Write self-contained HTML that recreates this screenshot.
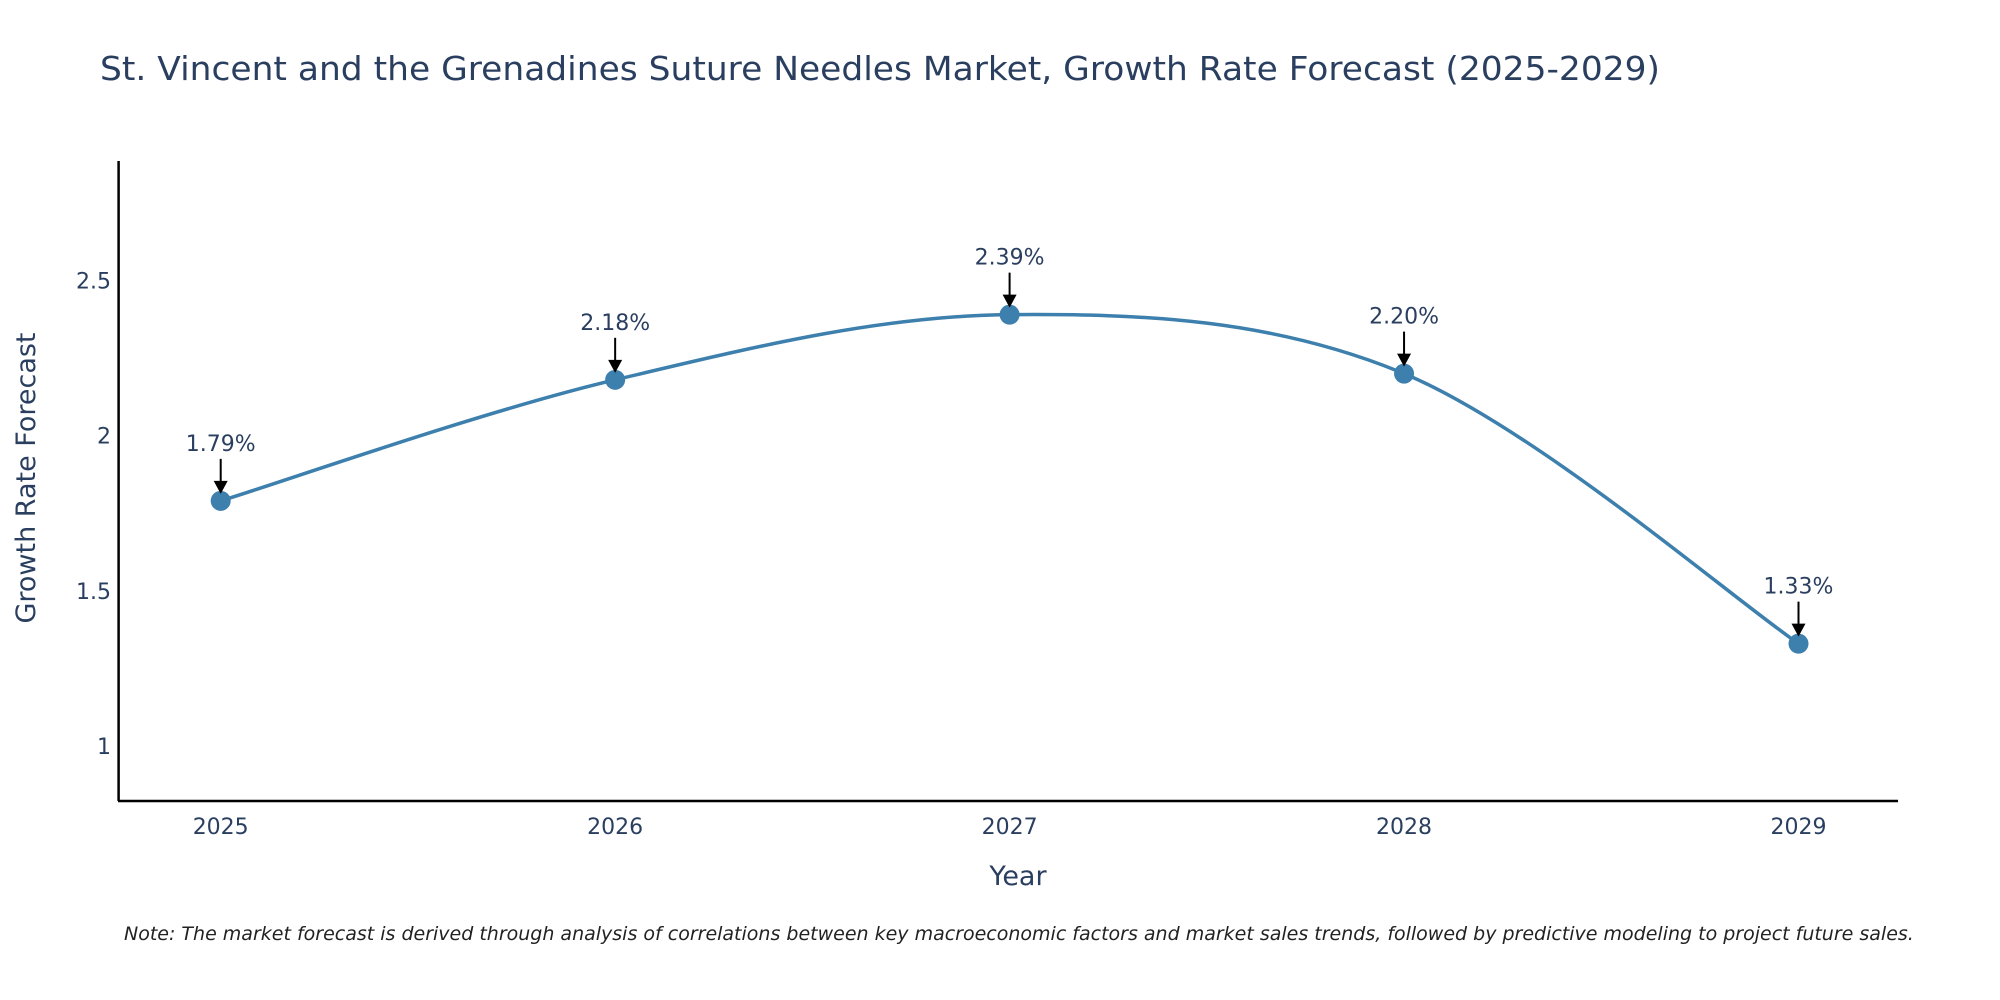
<!DOCTYPE html>
<html><head><meta charset="utf-8"><style>
body{margin:0;background:#fff}
svg{display:block;font-family:"DejaVu Sans","Liberation Sans",sans-serif}
</style></head><body>
<svg id="chart" width="2000" height="1000" viewBox="0 0 2000 1000">
<text x="100" y="80" font-size="33" fill="#2a3f5f" textLength="1560" lengthAdjust="spacingAndGlyphs">St. Vincent and the Grenadines Suture Needles Market, Growth Rate Forecast (2025-2029)</text>
<g id="yticks"></g>
<g id="xticks"></g>
<line x1="118.6" y1="161" x2="118.6" y2="801" stroke="#000" stroke-width="2.5"/>
<line x1="118" y1="801" x2="1898" y2="801" stroke="#000" stroke-width="2.5"/>
<path id="line" fill="none" stroke="#3d7fad" stroke-width="3.5"/>
<g id="marks"></g>
<text x="1018" y="885" font-size="27" fill="#2a3f5f" text-anchor="middle">Year</text>
<text x="0" y="0" font-size="27" fill="#2a3f5f" text-anchor="middle" transform="translate(35,478) rotate(-90)">Growth Rate Forecast</text>
<text x="124" y="940" font-size="19" font-style="italic" fill="#222">Note: The market forecast is derived through analysis of correlations between key macroeconomic factors and market sales trends, followed by predictive modeling to project future sales.</text>
</svg>
<script>
const years = ["2025","2026","2027","2028","2029"];
const values = [1.79, 2.18, 2.39, 2.20, 1.33];
const labels = ["1.79%","2.18%","2.39%","2.20%","1.33%"];
const yTicks = [1, 1.5, 2, 2.5];
const yTickLabels = ["1","1.5","2","2.5"];
const NS="http://www.w3.org/2000/svg";
const X0=220.7, X1=1798.5, yMin=0.823, yMax=2.885, yTop=161, yBot=801;
function xs(i){return X0+(X1-X0)*i/(years.length-1);}
function ys(v){return yBot-(v-yMin)/(yMax-yMin)*(yBot-yTop);}
function mk(tag,attrs,parent){const e=document.createElementNS(NS,tag);for(const k in attrs)e.setAttribute(k,attrs[k]);parent.appendChild(e);return e;}
const yt=document.getElementById('yticks');
yTicks.forEach((t,i)=>{const e=mk('text',{x:111,y:ys(t)+8,'font-size':22,fill:'#2a3f5f','text-anchor':'end'},yt);


e.textContent=yTickLabels[i];});
const xt=document.getElementById('xticks');
years.forEach((y,i)=>{const e=mk('text',{x:xs(i),y:834,'font-size':22,fill:'#2a3f5f','text-anchor':'middle'},xt);


e.textContent=y;});
const P=values.map((v,i)=>[xs(i),ys(v)]);
let d=`M${P[0][0]},${P[0][1]}`;
for(let i=0;i<P.length-1;i++){const p0=P[Math.max(i-1,0)],p1=P[i],p2=P[i+1],p3=P[Math.min(i+2,P.length-1)];
const c1=[p1[0]+(p2[0]-p0[0])/6,p1[1]+(p2[1]-p0[1])/6],c2=[p2[0]-(p3[0]-p1[0])/6,p2[1]-(p3[1]-p1[1])/6];
d+=` C${c1[0]},${c1[1]} ${c2[0]},${c2[1]} ${p2[0]},${p2[1]}`;}
document.getElementById('line').setAttribute('d',d);
const g=document.getElementById('marks');
P.forEach((p,i)=>{
const c=mk('circle',{cx:p[0],cy:p[1],r:10,fill:'#3d7fad'},g);


const l=mk('line',{x1:p[0],y1:p[1]-42,x2:p[0],y2:p[1]-18,stroke:'#000','stroke-width':2},g);


const h=mk('polygon',{points:`${p[0]-7},${p[1]-20} ${p[0]+7},${p[1]-20} ${p[0]},${p[1]-7}`,fill:'#000'},g);


const t=mk('text',{x:p[0],y:p[1]-50,'font-size':22,fill:'#2a3f5f','text-anchor':'middle'},g);


t.textContent=labels[i];
});
</script>
</body></html>
